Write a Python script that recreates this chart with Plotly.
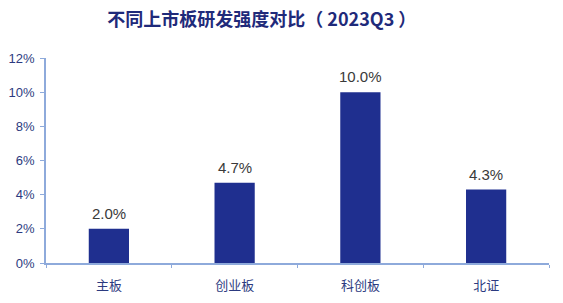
import plotly.graph_objects as go

categories = ["主板", "创业板", "科创板", "北证"]
values = [2.0, 4.7, 10.0, 4.3]
labels = ["2.0%", "4.7%", "10.0%", "4.3%"]
y_ticks = [0, 2, 4, 6, 8, 10, 12]
y_tick_text = ["0%", "2%", "4%", "6%", "8%", "10%", "12%"]

fig = go.Figure()
fig.add_trace(go.Bar(
    x=categories, y=values,
    marker=dict(color="#1f2f8f", line=dict(width=0)),
    width=0.32,
))
for c, v, t in zip(categories, values, labels):
    fig.add_annotation(x=c, y=v, text=t, showarrow=False, yanchor="bottom", yshift=5,
                       font=dict(family="Liberation Sans, Arial, sans-serif", size=15, color="#3a3a3a"))
fig.update_layout(
    width=563, height=303,
    margin=dict(l=46, r=14, t=58, b=40, autoexpand=False),
    paper_bgcolor="white", plot_bgcolor="white",
    title=dict(text="<b>不同上市板研发强度对比（ 2023Q3 ）</b>", x=0.465, xanchor="center", y=0.935, yanchor="middle",
               font=dict(family="Noto Sans CJK SC, sans-serif", size=18, color="#1f2a7a")),
    showlegend=False,
    xaxis=dict(showline=True, linecolor="#8eaadb", linewidth=1.5, ticks="outside", tickson="boundaries",
               ticklen=3, tickcolor="#8eaadb", ticklabelstandoff=10, automargin=False,
               tickfont=dict(family="Noto Sans CJK SC, sans-serif", size=13, color="#2c3a80")),
    yaxis=dict(range=[0, 12], tickvals=y_ticks, ticktext=y_tick_text, showline=True, linecolor="#8eaadb",
               linewidth=1.5, ticks="outside", ticklen=4, tickcolor="#8eaadb", showgrid=False, zeroline=False,
               ticklabelstandoff=3, automargin=False,
               tickfont=dict(family="Liberation Sans, Arial, sans-serif", size=13, color="#2c3a80")),
)
fig.write_html("out.html")
